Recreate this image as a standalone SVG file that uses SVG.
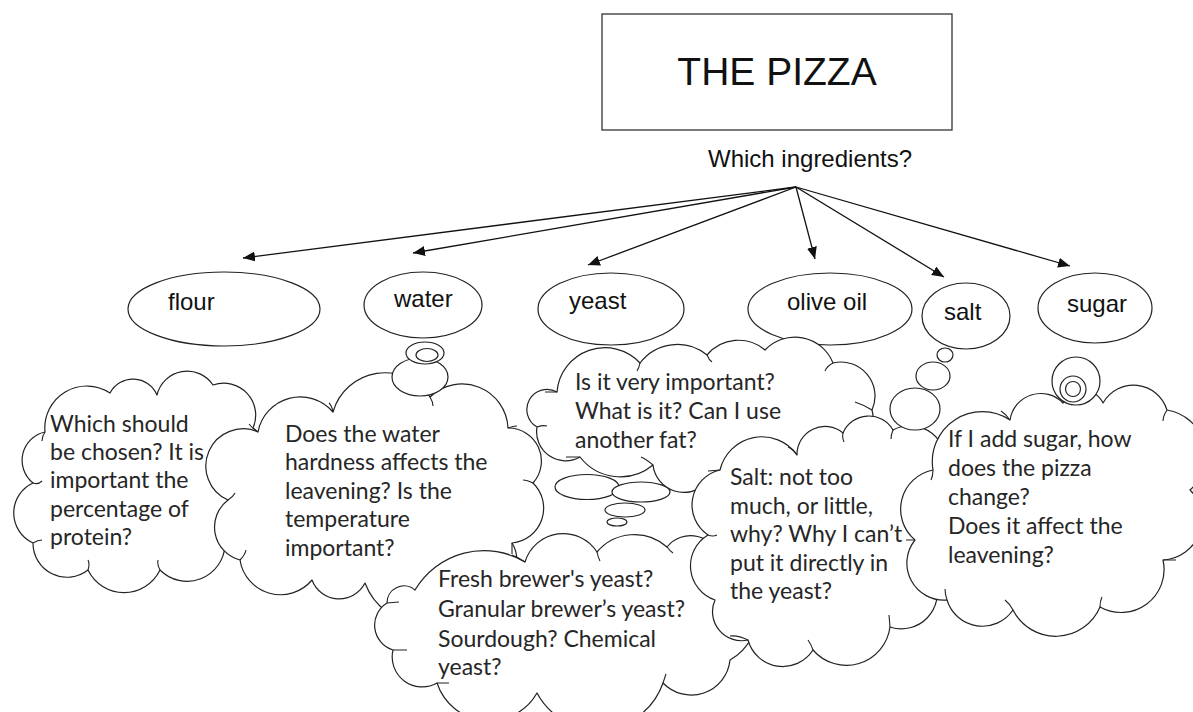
<svg xmlns="http://www.w3.org/2000/svg" width="1193" height="712" viewBox="0 0 1193 712">
<style>
  .bg{fill:#ffffff}
  .box{fill:#ffffff;stroke:#333;stroke-width:1.3}
  .oval{fill:#ffffff;stroke:#222;stroke-width:1.2}
  .cloud{fill:#ffffff;stroke:#222;stroke-width:1.2;stroke-linejoin:round}
  .bub{fill:#ffffff;stroke:#222;stroke-width:1.2}
  .tick{fill:none;stroke:#222;stroke-width:1.1}
  .arrow{stroke:#111;stroke-width:1.3;fill:none;marker-end:url(#ah)}
  .lab{font-family:"Liberation Sans",Arial,sans-serif;font-size:24px;fill:#111}
  .title{font-family:"Liberation Sans",Arial,sans-serif;font-size:39px;fill:#111}
  .q{font-family:Lato,"Noto Sans",sans-serif;font-size:23px;fill:#262626}
</style>
<defs>
  <marker id="ah" markerWidth="13" markerHeight="10" refX="12" refY="5" orient="auto" markerUnits="userSpaceOnUse">
    <path d="M0,0 L12,5 L0,10 Z" fill="#111"/>
  </marker>
</defs>
<rect class="bg" x="0" y="0" width="1193" height="712"/>

<g id="title">
  <rect class="box" x="602" y="14" width="350" height="116"/>
  <text class="title" x="777" y="85" text-anchor="middle">THE PIZZA</text>
</g>
<g id="question">
  <text class="lab" x="708" y="167">Which ingredients?</text>
</g>

<g id="connectors">
  <line class="arrow" x1="796" y1="187" x2="243" y2="258"/>
  <line class="arrow" x1="796" y1="187" x2="413" y2="253"/>
  <line class="arrow" x1="796" y1="187" x2="588" y2="265"/>
  <line class="arrow" x1="796" y1="187" x2="815" y2="259"/>
  <line class="arrow" x1="796" y1="187" x2="944" y2="277"/>
  <line class="arrow" x1="796" y1="187" x2="1070" y2="266"/>
</g>

<g id="flour">
  <ellipse class="oval" cx="224" cy="309" rx="96" ry="37"/>
  <text class="lab" x="168" y="310">flour</text>
</g>
<g id="water">
  <ellipse class="oval" cx="423" cy="305" rx="59" ry="33"/>
  <text class="lab" x="394" y="307">water</text>
</g>
<g id="yeast">
  <ellipse class="oval" cx="611" cy="309" rx="73" ry="36"/>
  <text class="lab" x="569" y="309">yeast</text>
</g>
<g id="olive-oil">
  <ellipse class="oval" cx="830" cy="309" rx="82" ry="36"/>
  <text class="lab" x="787" y="310">olive oil</text>
</g>
<g id="salt">
  <ellipse class="oval" cx="966" cy="316" rx="44" ry="33"/>
  <text class="lab" x="944" y="320">salt</text>
</g>
<g id="sugar">
  <ellipse class="oval" cx="1095" cy="308" rx="57" ry="35"/>
  <text class="lab" x="1067" y="312">sugar</text>
</g>

<g id="cloud-flour">
  <path class="cloud" d="M45 432 A42 42 0 0 1 110 393 A26 26 0 0 1 157 395 A31 31 0 0 1 213 385 A32 32 0 0 1 253 428 A66 66 0 0 1 225 545 A38 38 0 0 1 160 570 A40 40 0 0 1 88 570 A34 34 0 0 1 33 543 A33 33 0 0 1 33 483 A29 29 0 0 1 45 432 Z"/>
  <path class="tick" d="M45 432 q-3 4 -3 9 M33 483 q5 2 9 -2 M33 543 q5 -3 9 -3 M88 570 q2 -6 0 -10 M160 570 q-3 -5 -2 -10"/>
  <text class="q" x="50" y="432">Which should</text>
  <text class="q" x="50" y="460">be chosen? It is</text>
  <text class="q" x="50" y="488">important the</text>
  <text class="q" x="50" y="517">percentage of</text>
  <text class="q" x="50" y="545">protein?</text>
</g>

<g id="cloud-water">
  <path class="cloud" d="M258 432 A43 43 0 0 1 333 412 A54 54 0 0 1 430 397 A46 46 0 0 1 508 428 A33 33 0 0 1 533 483 A35 35 0 0 1 512 543 A31 31 0 0 1 480 590 A63 63 0 0 1 365 583 A29 29 0 0 1 312 580 A41 41 0 0 1 240 560 A34 34 0 0 1 228 500 A37 37 0 0 1 258 432 Z"/>
  <path class="tick" d="M258 432 q-6 -4 -9 -8 M333 412 q-1 -6 -4 -9 M430 397 q3 5 3 9 M508 428 q5 -2 9 -2 M533 483 q-6 -3 -10 -3 M512 543 l0 11 M228 500 q5 -3 7 -7 M240 560 q5 -5 6 -10"/>
  <text class="q" x="285" y="442">Does the water</text>
  <text class="q" x="285" y="470">hardness affects the</text>
  <text class="q" x="285" y="499">leavening? Is the</text>
  <text class="q" x="285" y="527">temperature</text>
  <text class="q" x="285" y="556">important?</text>
</g>
<g id="bubbles-water">
  <ellipse class="bub" cx="420" cy="377" rx="28" ry="19"/>
  <ellipse class="bub" cx="425" cy="353" rx="19" ry="11"/>
  <ellipse class="bub" cx="427" cy="355" rx="11" ry="6.5"/>
</g>

<g id="cloud-olive">
  <path class="cloud" d="M557 392 A48 48 0 0 1 640 363 A47 47 0 0 1 707 355 A41 41 0 0 1 765 350 A41 41 0 0 1 833 363 A34 34 0 0 1 872 410 A30 30 0 0 1 830 445 A70 70 0 0 1 707 482 A31 31 0 0 1 653 465 A51 51 0 0 1 580 457 A29 29 0 0 1 537 427 A20 20 0 0 1 557 392 Z"/>
  <path class="tick" d="M557 392 l-12 0 M640 363 q-1 5 -3 8 M707 355 q2 5 5 7 M833 363 q-6 3 -8 8 M872 410 q-8 -5 -17 -8 M653 465 q-7 -6 -12 -8 M580 457 l-14 0 M537 427 q6 -2 10 -1"/>
  <text class="q" x="575" y="390">Is it very important?</text>
  <text class="q" x="575" y="419">What is it? Can I use</text>
  <text class="q" x="575" y="448">another fat?</text>
</g>
<g id="bubbles-yeast">
  <ellipse class="bub" cx="587" cy="487" rx="32" ry="12.5"/>
  <ellipse class="bub" cx="641" cy="492" rx="29" ry="10"/>
  <ellipse class="bub" cx="625" cy="510" rx="20" ry="7"/>
  <ellipse class="bub" cx="617" cy="522" rx="10" ry="4"/>
</g>

<g id="cloud-yeast">
  <path class="cloud" d="M415 590 A80 80 0 0 1 525 562 A40 40 0 0 1 597 552 A49 49 0 0 1 667 547 A30 30 0 0 1 720 560 A55 55 0 0 1 730 660 A39 39 0 0 1 663 683 A69 69 0 0 1 537 693 A55 55 0 0 1 437 683 A30 30 0 0 1 393 650 A26 26 0 0 1 387 603 A17 17 0 0 1 415 590 Z"/>
  <path class="tick" d="M525 562 q-7 -5 -13 -7 M597 552 q1 5 3 9 M667 547 q3 4 6 6 M663 683 l3 -9 M437 683 l12 0 M393 650 l14 0 M387 603 l12 -1"/>
  <text class="q" x="438" y="587">Fresh brewer's yeast?</text>
  <text class="q" x="438" y="617">Granular brewer’s yeast?</text>
  <text class="q" x="438" y="647">Sourdough? Chemical</text>
  <text class="q" x="438" y="675">yeast?</text>
</g>

<g id="cloud-salt">
  <path class="cloud" d="M720 470 A43 43 0 0 1 797 455 A28 28 0 0 1 843 433 A28 28 0 0 1 893 430 A36 36 0 0 1 945 470 A61 61 0 0 1 935 580 A36 36 0 0 1 890 627 A44 44 0 0 1 813 650 A36 36 0 0 1 748 640 A29 29 0 0 1 715 600 A36 36 0 0 1 708 535 A36 36 0 0 1 720 470 Z"/>
  <path class="tick" d="M720 470 l-12 1 M797 455 q-4 -6 -9 -8 M843 433 q-1 5 1 9 M893 430 q-2 5 -2 9 M890 627 l-1 -12 M813 650 q-2 -6 -5 -10 M748 640 q-10 -5 -18 -4 M708 535 q5 2 9 0"/>
  <text class="q" x="730" y="485">Salt: not too</text>
  <text class="q" x="730" y="514">much, or little,</text>
  <text class="q" x="730" y="542">why? Why I can’t</text>
  <text class="q" x="730" y="571">put it directly in</text>
  <text class="q" x="730" y="599">the yeast?</text>
</g>
<g id="bubbles-salt">
  <ellipse class="bub" cx="915" cy="409" rx="25" ry="21"/>
  <ellipse class="bub" cx="933" cy="376" rx="17" ry="14"/>
  <ellipse class="bub" cx="945" cy="355" rx="8" ry="7"/>
</g>

<g id="cloud-sugar">
  <path class="cloud" d="M933 470 A50 50 0 0 1 1010 420 A31 31 0 0 1 1063 403 A22 22 0 0 1 1103 403 A35 35 0 0 1 1167 410 A46 46 0 0 1 1190 490 A41 41 0 0 1 1163 560 A43 43 0 0 1 1100 607 A48 48 0 0 1 1013 610 A37 37 0 0 1 947 600 A37 37 0 0 1 915 540 A40 40 0 0 1 933 470 Z"/>
  <path class="tick" d="M933 470 q0 6 -2 10 M1010 420 q-4 -6 -9 -9 M1167 410 q-4 6 -4 11 M1163 560 l13 0 M1100 607 q0 -6 2 -10 M1013 610 q-3 -6 -8 -10 M947 600 q-2 -6 -2 -11 M915 540 l-9 0"/>
  <text class="q" x="948" y="447">If I add sugar, how</text>
  <text class="q" x="948" y="476">does the pizza</text>
  <text class="q" x="948" y="505">change?</text>
  <text class="q" x="948" y="534">Does it affect the</text>
  <text class="q" x="948" y="563">leavening?</text>
</g>
<g id="bubbles-sugar">
  <circle class="bub" cx="1076" cy="381" r="24"/>
  <circle class="bub" cx="1073" cy="389" r="13"/>
  <circle class="bub" cx="1073" cy="389" r="7.5"/>
</g>
</svg>
